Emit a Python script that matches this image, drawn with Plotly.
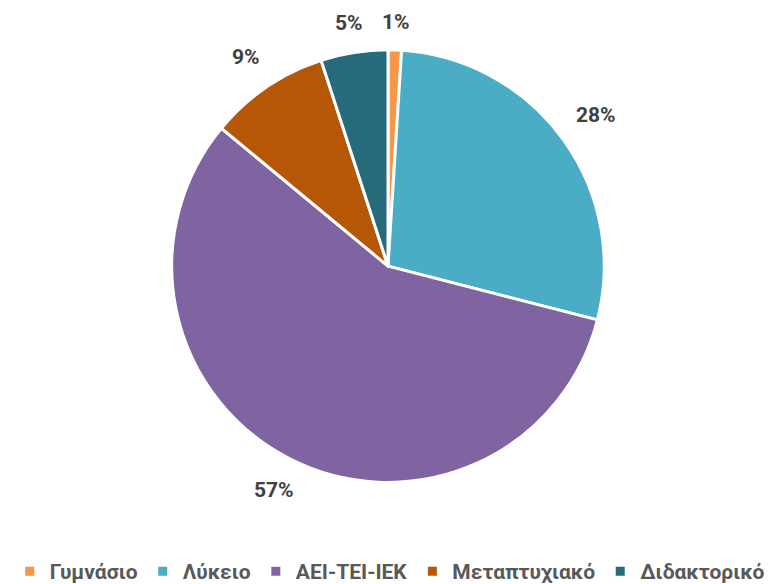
import math
import plotly.graph_objects as go

labels = ["Γυμνάσιο", "Λύκειο", "ΑΕΙ-ΤΕΙ-ΙΕΚ", "Μεταπτυχιακό", "Διδακτορικό"]
values = [1, 28, 57, 9, 5]
colors = ["#F79646", "#4BACC6", "#8064A2", "#B65708", "#276A7C"]

W, H = 779, 584
# page body adds an 8px offset, so the pie centre is moved back by that much
cx, cy, r = 380, 259, 217

fig = go.Figure(go.Pie(
    labels=["<b>" + l + "</b>" for l in labels],
    values=values,
    sort=False,
    direction="clockwise",
    rotation=0,
    marker=dict(colors=colors, line=dict(color="white", width=3)),
    textinfo="none",
    showlegend=True,
    domain=dict(x=[(cx - r) / W, (cx + r) / W],
                y=[(H - cy - r) / H, (H - cy + r) / H]),
    hoverinfo="label+percent",
))

# percentage labels placed outside each slice, at the slice's mid angle
total = sum(values)
cum = 0
for v in values:
    mid = (cum + v / 2) / total * 2 * math.pi
    cum += v
    rl = 245 + 15 * abs(math.sin(mid))
    px_ = cx + rl * math.sin(mid)
    py_ = cy - rl * math.cos(mid)
    fig.add_annotation(
        x=px_ / W, y=1 - py_ / H, xref="paper", yref="paper",
        text="<b>%d%%</b>" % round(v / total * 100),
        showarrow=False, xanchor="center", yanchor="middle",
        font=dict(size=21, color="#404040"),
    )

fig.update_layout(
    width=W, height=H,
    margin=dict(l=0, r=0, t=0, b=0),
    paper_bgcolor="white",
    font=dict(family="Roboto, sans-serif", color="#595959"),
    legend=dict(orientation="h", x=0.49, xanchor="center", y=-0.004, yanchor="bottom",
                font=dict(size=21, color="#595959"), itemwidth=30,
                traceorder="normal"),
)

fig.write_html("out.html")
